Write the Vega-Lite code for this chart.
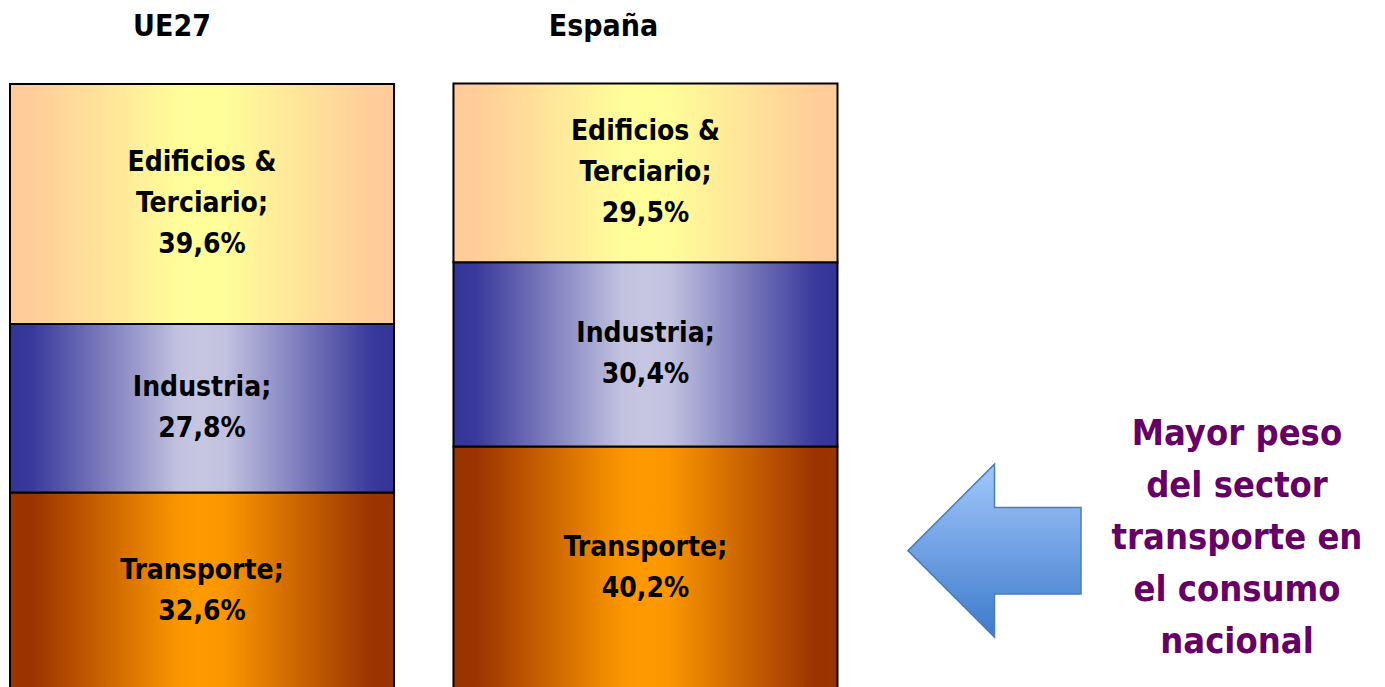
{
  "$schema": "https://vega.github.io/schema/vega-lite/v6.json",
  "autosize": "none",
  "width": 1385,
  "height": 603,
  "padding": {"top": 84, "left": 0, "right": 0, "bottom": 0},
  "background": "white",
  "config": {"view": {"stroke": null}, "font": "DejaVu Sans Condensed"},
  "resolve": {"scale": {"x": "independent"}},
  "layer": [
    {
      "data": {
        "values": [
          {"region": "UE27", "sector": "Transporte", "valor": 32.6, "etiqueta": "Transporte;\n32,6%"},
          {"region": "UE27", "sector": "Industria", "valor": 27.8, "etiqueta": "Industria;\n27,8%"},
          {"region": "UE27", "sector": "Edificios & Terciario", "valor": 39.6, "etiqueta": "Edificios &\nTerciario;\n39,6%"},
          {"region": "España", "sector": "Transporte", "valor": 40.2, "etiqueta": "Transporte;\n40,2%"},
          {"region": "España", "sector": "Industria", "valor": 30.4, "etiqueta": "Industria;\n30,4%"},
          {"region": "España", "sector": "Edificios & Terciario", "valor": 29.5, "etiqueta": "Edificios &\nTerciario;\n29,5%"}
        ]
      },
      "transform": [
        {"stack": "valor", "groupby": ["region"], "sort": [{"field": "sector", "order": "descending"}], "as": ["v0", "v1"]}
      ],
      "encoding": {
        "x": {
          "field": "region", "type": "nominal",
          "scale": {"type": "band", "domain": ["UE27", "España"], "range": [10, 837.5], "paddingInner": 0.134, "paddingOuter": 0},
          "axis": {"orient": "top", "title": null, "domain": false, "ticks": false, "grid": false, "labelAngle": 0,
                   "labelFont": "DejaVu Sans Condensed", "labelFontSize": 30, "labelFontWeight": "bold", "labelColor": "#000000",
                   "labelPadding": 49, "labelBaseline": "alphabetic",
                   "labelOffset": {"condition": {"test": "datum.value === 'UE27'", "value": -30}, "value": -42}}
        }
      },
      "layer": [
        {
          "mark": {"type": "bar", "stroke": "#000000", "strokeWidth": 2},
          "encoding": {
            "y": {"field": "v0", "type": "quantitative", "scale": {"domain": [0.5, 100], "zero": false, "nice": false}, "axis": null},
            "y2": {"field": "v1"},
            "fill": {
              "condition": [
                {"test": "datum.sector === 'Transporte'",
                 "value": {"gradient": "linear", "x1": 0, "y1": 0, "x2": 1, "y2": 0, "stops": [
                    {"offset": 0, "color": "#993300"}, {"offset": 0.06, "color": "#9b3400"},
                    {"offset": 0.44, "color": "#fb9600"}, {"offset": 0.5, "color": "#ff9900"}, {"offset": 0.56, "color": "#fb9600"},
                    {"offset": 0.94, "color": "#9b3400"}, {"offset": 1, "color": "#993300"}]}},
                {"test": "datum.sector === 'Industria'",
                 "value": {"gradient": "linear", "x1": 0, "y1": 0, "x2": 1, "y2": 0, "stops": [
                    {"offset": 0, "color": "#333399"}, {"offset": 0.06, "color": "#3a3a9c"},
                    {"offset": 0.44, "color": "#c2c2e0"}, {"offset": 0.5, "color": "#c6c6e2"}, {"offset": 0.56, "color": "#c2c2e0"},
                    {"offset": 0.94, "color": "#3a3a9c"}, {"offset": 1, "color": "#333399"}]}}
              ],
              "value": {"gradient": "linear", "x1": 0, "y1": 0, "x2": 1, "y2": 0, "stops": [
                    {"offset": 0, "color": "#ffcc99"}, {"offset": 0.06, "color": "#ffcd99"},
                    {"offset": 0.44, "color": "#fffd99"}, {"offset": 0.5, "color": "#ffff99"}, {"offset": 0.56, "color": "#fffd99"},
                    {"offset": 0.94, "color": "#ffcd99"}, {"offset": 1, "color": "#ffcc99"}]}
            }
          }
        },
        {
          "transform": [
            {"fold": ["v0", "v1"], "as": ["extremo", "nivel"]}
          ],
          "mark": {"type": "text", "font": "DejaVu Sans Condensed", "fontSize": 28, "fontWeight": "bold", "color": "#000000",
                   "align": "center", "baseline": "middle", "lineHeight": 41, "lineBreak": "\n",
                   "dy": {"expr": "-(length(split(datum.etiqueta, '\\n')) - 1) * 20.5"}},
          "encoding": {
            "y": {"aggregate": "mean", "field": "nivel", "type": "quantitative", "scale": {"domain": [0.5, 100], "zero": false, "nice": false}, "axis": null},
            "text": {"field": "etiqueta", "type": "nominal"}
          }
        }
      ]
    },
    {
      "data": {"values": [{"elemento": "flecha"}]},
      "mark": {
        "type": "point", "filled": true, "opacity": 1,
        "shape": "M -1 0 L 0 -1 L 0 -0.5 L 1 -0.5 L 1 0.5 L 0 0.5 L 0 1 Z",
        "size": 29929,
        "fill": {"gradient": "linear", "x1": 0, "y1": 0, "x2": 0, "y2": 1, "stops": [
          {"offset": 0, "color": "#a3c7fc"}, {"offset": 1, "color": "#3c7bcb"}]},
        "stroke": "#4a7ebb", "strokeWidth": 1.5
      },
      "encoding": {
        "x": {"field": "elemento", "type": "nominal", "scale": {"type": "point", "domain": ["flecha", "nota"], "range": [994.5, 1237], "padding": 0}, "axis": null},
        "y": {"datum": 23, "type": "quantitative", "scale": {"domain": [0.5, 100], "zero": false, "nice": false}, "axis": null}
      }
    },
    {
      "data": {"values": [{"elemento": "nota", "texto": "Mayor peso\ndel sector\ntransporte en\nel consumo\nnacional"}]},
      "mark": {"type": "text", "font": "DejaVu Sans Condensed", "fontSize": 36, "fontWeight": "bold", "color": "#660066",
               "align": "center", "baseline": "alphabetic", "lineHeight": 52, "lineBreak": "\n"},
      "encoding": {
        "x": {"field": "elemento", "type": "nominal", "scale": {"type": "point", "domain": ["flecha", "nota"], "range": [994.5, 1237], "padding": 0}, "axis": null},
        "y": {"datum": 40.4, "type": "quantitative", "scale": {"domain": [0.5, 100], "zero": false, "nice": false}, "axis": null},
        "text": {"field": "texto", "type": "nominal"}
      }
    }
  ]
}
